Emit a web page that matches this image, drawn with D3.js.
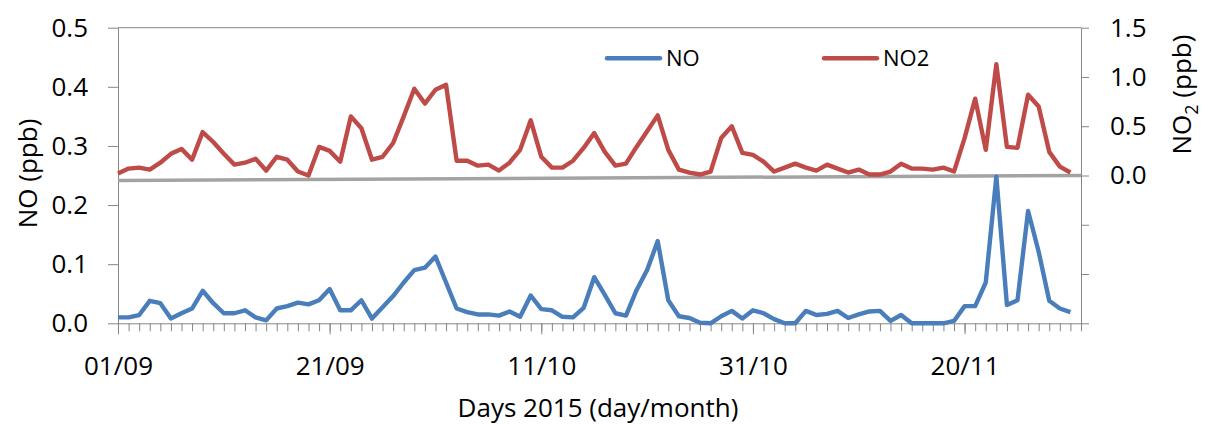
<!DOCTYPE html>
<html>
<head>
<meta charset="utf-8">
<script src="https://cdn.jsdelivr.net/npm/d3@7"></script>
<style>
body { margin: 0; background: #fff; }
text { font-family: "Open Sans", sans-serif; fill: #000; }
</style>
</head>
<body>
<div id="chart"></div>
<script>
// daily means, 01/09/2015 .. 30/11/2015
const startDate = "2015-09-01";
const endDate = "2015-12-01";
const labelDates = ["2015-09-01", "2015-09-21", "2015-10-11", "2015-10-31", "2015-11-20"];

const noValues = [
  0.010, 0.010, 0.014, 0.038, 0.034, 0.008, 0.017, 0.025, 0.055, 0.034,
  0.017, 0.017, 0.022, 0.010, 0.005, 0.025, 0.029, 0.035, 0.032, 0.039,
  0.058, 0.022, 0.022, 0.039, 0.008, 0.027, 0.046, 0.069, 0.090, 0.094,
  0.113, 0.069, 0.025, 0.019, 0.015, 0.015, 0.013, 0.020, 0.011, 0.047,
  0.024, 0.022, 0.011, 0.010, 0.026, 0.078, 0.048, 0.017, 0.013, 0.056,
  0.090, 0.139, 0.039, 0.012, 0.009, 0.001, 0.000, 0.012, 0.021, 0.008,
  0.022, 0.017, 0.007, 0.000, 0.000, 0.021, 0.014, 0.016, 0.021, 0.009,
  0.015, 0.020, 0.021, 0.004, 0.014, 0.000, 0.000, 0.000, 0.000, 0.004,
  0.029, 0.029, 0.069, 0.248, 0.031, 0.039, 0.190, 0.121, 0.038, 0.025,
  0.019
];

const no2Values = [
  0.02, 0.07, 0.08, 0.06, 0.13, 0.22, 0.27, 0.16, 0.44, 0.34,
  0.22, 0.11, 0.13, 0.17, 0.05, 0.19, 0.16, 0.04, 0.00, 0.29,
  0.25, 0.14, 0.60, 0.48, 0.16, 0.19, 0.33, 0.60, 0.88, 0.73,
  0.87, 0.92, 0.15, 0.15, 0.10, 0.11, 0.05, 0.13, 0.26, 0.56,
  0.19, 0.08, 0.08, 0.15, 0.28, 0.43, 0.24, 0.10, 0.12, 0.29,
  0.45, 0.61, 0.26, 0.06, 0.03, 0.01, 0.04, 0.38, 0.50, 0.23,
  0.21, 0.14, 0.04, 0.08, 0.12, 0.08, 0.05, 0.11, 0.07, 0.03,
  0.06, 0.01, 0.01, 0.04, 0.12, 0.07, 0.07, 0.06, 0.08, 0.04,
  0.38, 0.78, 0.26, 1.13, 0.29, 0.28, 0.82, 0.70, 0.24, 0.09,
  0.03
];

const leftTicks = [0, 0.1, 0.2, 0.3, 0.4, 0.5];
const rightTicks = [-1.5, -1, -0.5, 0, 0.5, 1, 1.5];

const widthSvg = 1205, heightSvg = 425;
const margin = {top: 27.7, right: 124, bottom: 101.7, left: 118};
const width = widthSvg - margin.left - margin.right;
const height = heightSvg - margin.top - margin.bottom;
const axisColor = "#868686";

const parse = d3.utcParse("%Y-%m-%d");
const start = parse(startDate);
const days = noValues.map((d, i) => d3.utcDay.offset(start, i));

const svg = d3.select("#chart").append("svg")
    .attr("width", widthSvg)
    .attr("height", heightSvg);

const g = svg.append("g")
    .attr("transform", "translate(" + margin.left + "," + margin.top + ")");

const x = d3.scaleUtc().domain([start, parse(endDate)]).range([0, width]);
const y = d3.scaleLinear().domain([0, 0.5]).range([height, 0]);
const y2 = d3.scaleLinear().domain([-1.5, 1.5]).range([height, 0]);

function styleAxis(sel, size) {
  sel.attr("font-family", null).attr("font-size", size);
  sel.selectAll("path, line").attr("stroke", axisColor).attr("stroke-width", 1);
}

// top border
g.append("line")
    .attr("x1", 0).attr("x2", width)
    .attr("y1", y(0.5)).attr("y2", y(0.5))
    .attr("stroke", axisColor);

// left axis
g.append("g")
    .call(d3.axisLeft(y).tickValues(leftTicks).tickFormat(d3.format(".1f"))
      .tickSize(10).tickSizeOuter(0).tickPadding(20))
    .call(styleAxis, 26);

// right axis (NO2 uses upper half only)
g.append("g")
    .attr("transform", "translate(" + width + ",0)")
    .call(d3.axisRight(y2).tickValues(rightTicks)
      .tickFormat(d => d >= 0 ? d3.format(".1f")(d) : "")
      .tickSize(8).tickSizeOuter(0).tickPadding(21))
    .call(styleAxis, 26);

// bottom axis: daily minor ticks + labelled major ticks
g.append("g")
    .attr("transform", "translate(0," + height + ")")
    .call(d3.axisBottom(x).ticks(d3.utcDay.every(1)).tickFormat("")
      .tickSize(8).tickSizeOuter(0))
    .call(styleAxis, 26);

g.append("g")
    .attr("transform", "translate(0," + height + ")")
    .call(d3.axisBottom(x).tickValues(labelDates.map(parse))
      .tickFormat(d3.utcFormat("%d/%m")).tickSize(11).tickSizeOuter(0).tickPadding(22))
    .call(styleAxis, 26)
    .call(a => a.select(".domain").remove());

// separator between the two panels
g.append("line")
    .attr("x1", x(start)).attr("x2", width)
    .attr("y1", y2(-0.05)).attr("y2", y2(0))
    .attr("stroke", "#a3a3a3")
    .attr("stroke-width", 3.5);

const lineNO2 = d3.line().x((d, i) => x(days[i])).y(d => y2(d));
const lineNO = d3.line().x((d, i) => x(days[i])).y(d => y(d));

g.append("path")
    .datum(no2Values)
    .attr("fill", "none")
    .attr("stroke", "#be4b48")
    .attr("stroke-width", 4.4)
    .attr("stroke-linejoin", "round")
    .attr("d", lineNO2);

g.append("path")
    .datum(noValues)
    .attr("fill", "none")
    .attr("stroke", "#4a7ebb")
    .attr("stroke-width", 4.4)
    .attr("stroke-linejoin", "round")
    .attr("d", lineNO);

// legend
const legend = [
  {name: "NO", color: "#4a7ebb", x: 489},
  {name: "NO2", color: "#be4b48", x: 706}
];
const lg = g.selectAll(".legend").data(legend).enter().append("g")
    .attr("class", "legend")
    .attr("transform", d => "translate(" + d.x + "," + 30.5 + ")");
lg.append("line")
    .attr("x1", 0).attr("x2", 53)
    .attr("stroke", d => d.color)
    .attr("stroke-width", 4.4)
    .attr("stroke-linecap", "round");
lg.append("text")
    .attr("x", 59)
    .attr("dy", "0.35em")
    .attr("font-size", 22)
    .text(d => d.name);

// axis titles
svg.append("text")
    .attr("transform", "translate(28," + (margin.top + y(0.25) - 2) + ") rotate(-90)")
    .attr("text-anchor", "middle")
    .attr("dy", "0.35em")
    .attr("font-size", 26)
    .text("NO (ppb)");

const t2 = svg.append("text")
    .attr("transform", "translate(1182," + (margin.top + y2(0.75) - 7) + ") rotate(-90)")
    .attr("text-anchor", "middle")
    .attr("dy", "0.35em")
    .attr("font-size", 26);
t2.append("tspan").text("NO");
t2.append("tspan").attr("dy", 7).attr("font-size", 18).text("2");
t2.append("tspan").attr("dy", -7).text(" (ppb)");

svg.append("text")
    .attr("x", 598)
    .attr("y", 417)
    .attr("text-anchor", "middle")
    .attr("font-size", 26)
    .text("Days 2015 (day/month)");
</script>
</body>
</html>
